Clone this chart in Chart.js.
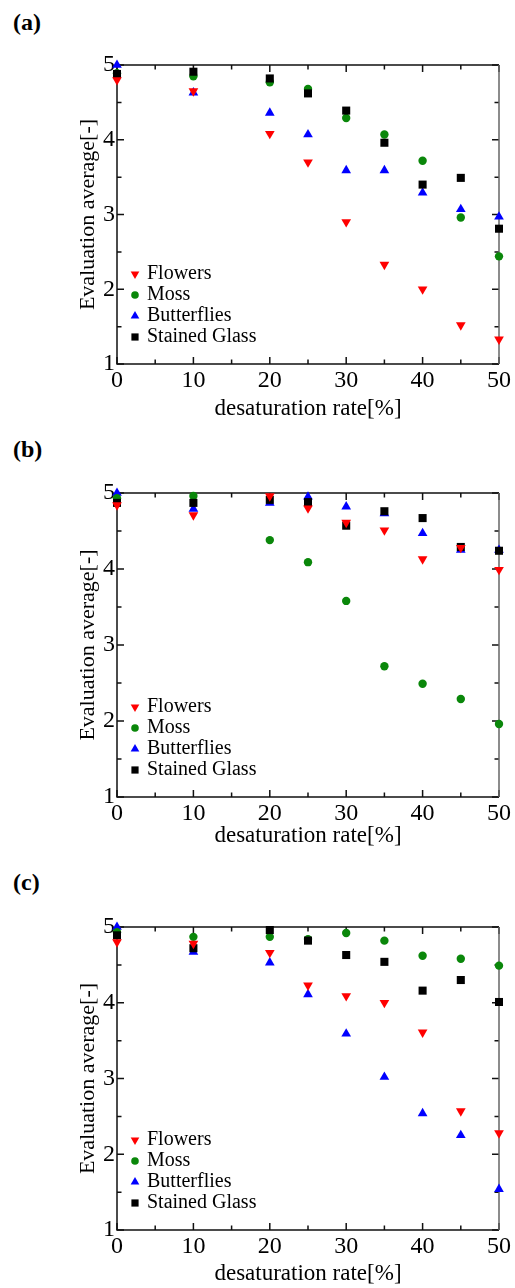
<!DOCTYPE html>
<html>
<head>
<meta charset="utf-8">
<script src="https://cdn.jsdelivr.net/npm/chart.js@4.4.1/dist/chart.umd.min.js"></script>
<style>
  body { margin: 0; background: #fff; width: 515px; height: 1288px; position: relative; overflow: hidden; }
  .panel { position: absolute; left: 0; width: 515px; }
  .tag { position: absolute; left: 13px; font: bold 24px "Liberation Serif", serif; line-height: 26px; }
</style>
</head>
<body>
<div class="tag" style="top:9px">(a)</div>
<div class="tag" style="top:436px">(b)</div>
<div class="tag" style="top:869px">(c)</div>
<div class="panel" style="top:0"><canvas id="chartA" width="515" height="430"></canvas></div>
<div class="panel" style="top:430px"><canvas id="chartB" width="515" height="430"></canvas></div>
<div class="panel" style="top:860px"><canvas id="chartC" width="515" height="428"></canvas></div>
<script>
const rates = [0, 10, 20, 25, 30, 35, 40, 45, 50];
const seriesNames = ['Flowers', 'Moss', 'Butterflies', 'Stained Glass'];
const xTicks = [0, 10, 20, 30, 40, 50];
const yTicks = [1, 2, 3, 4, 5];

// (a)
const flowersA = [4.80, 4.65, 4.08, 3.70, 2.90, 2.33, 2.00, 1.52, 1.33];
const mossA = [4.89, 4.85, 4.77, 4.68, 4.29, 4.07, 3.72, 2.96, 2.44];
const butterfliesA = [5.00, 4.63, 4.36, 4.07, 3.59, 3.59, 3.29, 3.07, 2.97];
const glassA = [4.88, 4.91, 4.82, 4.62, 4.39, 3.96, 3.40, 3.49, 2.81];
// (b)
const flowersB = [4.84, 4.71, 4.96, 4.80, 4.61, 4.51, 4.13, 4.28, 3.99];
const mossB = [4.93, 4.96, 4.38, 4.09, 3.58, 2.72, 2.49, 2.29, 1.96];
const butterfliesB = [5.00, 4.79, 4.87, 4.95, 4.82, 4.73, 4.47, 4.25, 4.25];
const glassB = [4.87, 4.87, 4.91, 4.88, 4.57, 4.76, 4.67, 4.29, 4.24];
// (c)
const flowersC = [4.80, 4.78, 4.66, 4.23, 4.09, 4.00, 3.61, 2.57, 2.28];
const mossC = [4.93, 4.87, 4.87, 4.84, 4.92, 4.82, 4.62, 4.58, 4.49];
const butterfliesC = [5.00, 4.67, 4.53, 4.11, 3.59, 3.02, 2.54, 2.25, 1.54];
const glassC = [4.89, 4.72, 4.96, 4.82, 4.63, 4.54, 4.16, 4.30, 4.01];

const colors = ['#ff0000', '#0a870a', '#0000ff', '#000000'];
const styles = [
  { pointStyle: 'triangle', rotation: 180, radius: 5.6, order: 0 },
  { pointStyle: 'circle', rotation: 0, radius: 4.2, order: 2 },
  { pointStyle: 'triangle', rotation: 0, radius: 5.6, order: 3 },
  { pointStyle: 'rect', rotation: 0, radius: 5.7, order: 1 }
];
const serif = '"Liberation Serif", "Times New Roman", serif';

// box with inward ticks on all four sides
const frame = {
  id: 'frame',
  beforeDatasetsDraw(chart) {
    const { ctx, chartArea: a, scales: { x, y } } = chart;
    ctx.save();
    ctx.strokeStyle = '#111';
    ctx.lineWidth = 1.5;
    for (let v = 0; v <= 50; v += 5) {
      const px = x.getPixelForValue(v);
      const len = v % 10 === 0 ? 7 : 4.5;
      ctx.beginPath();
      ctx.moveTo(px, a.bottom); ctx.lineTo(px, a.bottom - len);
      ctx.moveTo(px, a.top); ctx.lineTo(px, a.top + len);
      ctx.stroke();
    }
    for (let v = 1; v <= 5; v += 0.5) {
      const py = y.getPixelForValue(v);
      const len = v % 1 === 0 ? 7 : 4.5;
      ctx.beginPath();
      ctx.moveTo(a.left, py); ctx.lineTo(a.left + len, py);
      ctx.moveTo(a.right, py); ctx.lineTo(a.right - len, py);
      ctx.stroke();
    }
    ctx.beginPath();
    ctx.moveTo(a.right, a.top); ctx.lineTo(a.left, a.top); ctx.lineTo(a.left, a.bottom); ctx.lineTo(a.right, a.bottom);
    ctx.stroke();
    ctx.strokeStyle = '#666';
    ctx.beginPath();
    ctx.moveTo(a.right, a.top); ctx.lineTo(a.right, a.bottom);
    ctx.stroke();
    ctx.restore();
  }
};

function marker(ctx, style, x, y) {
  ctx.beginPath();
  if (style.pointStyle === 'circle') {
    ctx.arc(x, y, 3.8, 0, Math.PI * 2);
  } else if (style.pointStyle === 'rect') {
    ctx.rect(x - 3.6, y - 3.6, 7.2, 7.2);
  } else {
    const r = 5, d = style.rotation ? -1 : 1;
    ctx.moveTo(x, y - d * r);
    ctx.lineTo(x + r * 0.866, y + d * r / 2);
    ctx.lineTo(x - r * 0.866, y + d * r / 2);
    ctx.closePath();
  }
  ctx.fill();
}

const insideLegend = {
  id: 'insideLegend',
  afterDatasetsDraw(chart) {
    const { ctx, chartArea: a } = chart;
    ctx.save();
    ctx.font = '20px ' + serif;
    ctx.textBaseline = 'middle';
    chart.data.datasets.forEach((ds, i) => {
      const yy = a.bottom - 90 + 21 * i;
      ctx.fillStyle = colors[i];
      marker(ctx, styles[i], a.left + 18, yy);
      ctx.fillStyle = '#000';
      ctx.fillText(ds.label, a.left + 30, yy);
    });
    ctx.restore();
  }
};

function makeChart(id, series, H, T, B, titlePad) {
  const datasets = series.map((vals, i) => ({
    label: seriesNames[i],
    data: rates.map((r, j) => ({ x: r, y: vals[j] })),
    pointStyle: styles[i].pointStyle,
    rotation: styles[i].rotation,
    pointRadius: styles[i].radius,
    pointHoverRadius: styles[i].radius,
    pointBorderWidth: 0,
    backgroundColor: colors[i],
    borderColor: colors[i],
    showLine: false,
    clip: false,
    order: styles[i].order
  }));
  new Chart(document.getElementById(id), {
    type: 'scatter',
    data: { datasets: datasets },
    options: {
      responsive: false,
      animation: false,
      layout: { padding: { top: T, right: 16, bottom: 0, left: 0 } },
      plugins: { legend: { display: false }, tooltip: { enabled: false } },
      scales: {
        x: {
          type: 'linear', min: 0, max: 50,
          afterFit(s) { s.height = H - B; },
          afterBuildTicks(s) { s.ticks = xTicks.map(v => ({ value: v })); },
          grid: { display: false, drawTicks: false },
          border: { display: false },
          ticks: { color: '#000', padding: 2, font: { family: serif, size: 24 } },
          title: { display: true, text: 'desaturation rate[%]', color: '#000', padding: { top: 0, bottom: titlePad }, font: { family: serif, size: 23 } }
        },
        y: {
          type: 'linear', min: 1, max: 5,
          afterFit(s) { s.width = 117; },
          afterBuildTicks(s) { s.ticks = yTicks.map(v => ({ value: v })); },
          grid: { display: false, drawTicks: false },
          border: { display: false },
          ticks: { color: '#000', padding: 2, font: { family: serif, size: 24 } },
          title: { display: true, text: 'Evaluation average[-]', color: '#000', padding: { top: 75, bottom: 0 }, font: { family: serif, size: 22 } }
        }
      }
    },
    plugins: [frame, insideLegend]
  });
}

makeChart('chartA', [flowersA, mossA, butterfliesA, glassA], 430, 65, 364, 7.5);
makeChart('chartB', [flowersB, mossB, butterfliesB, glassB], 430, 63, 367, 10.3);
makeChart('chartC', [flowersC, mossC, butterfliesC, glassC], 428, 67, 370, 0.3);
</script>
</body>
</html>
